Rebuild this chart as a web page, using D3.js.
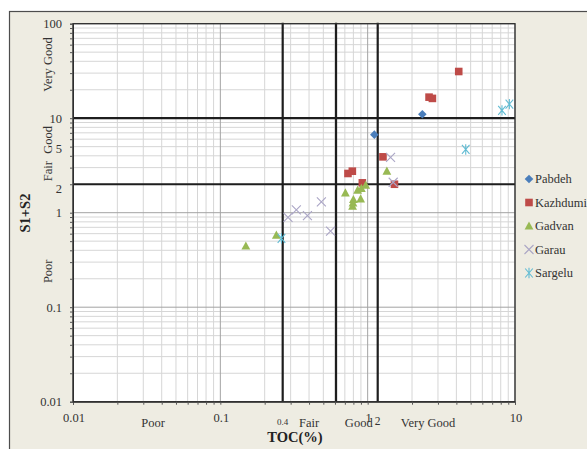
<!DOCTYPE html>
<html>
<head>
<meta charset="utf-8">
<script src="https://cdn.jsdelivr.net/npm/d3@7"></script>
<style>
  html, body { margin: 0; padding: 0; background: #ffffff; }
  svg { display: block; }
  text { font-family: "Liberation Serif", "Times New Roman", serif; fill: #333333; }
</style>
</head>
<body>
<div id="chart"></div>
<script>
// Source-rock quality plot: S1+S2 (mg HC/g rock) against TOC (%)
const seriesNames = ["Pabdeh", "Kazhdumi", "Gadvan", "Garau", "Sargelu"];
const seriesColors = ["#4a7ebb", "#be4b48", "#98b954", "#aba6c6", "#62bcd3"];
const seriesSymbols = ["diamond", "square", "triangle", "x", "asterisk"];

const pabdehTOC = [1.11, 2.35];
const pabdehS1S2 = [6.7, 11.0];

const kazhdumiTOC = [0.735, 0.787, 0.92, 1.27, 1.52, 2.61, 2.75, 4.15];
const kazhdumiS1S2 = [2.6, 2.75, 2.07, 3.9, 2.0, 16.7, 16.2, 31.2];

const gadvanTOC = [0.149, 0.24, 0.706, 0.79, 0.795, 0.80, 0.855, 0.896, 0.906, 0.97, 1.35];
const gadvanS1S2 = [0.444, 0.58, 1.62, 1.17, 1.27, 1.38, 1.73, 1.40, 1.81, 1.96, 2.75];

const garauTOC = [0.288, 0.328, 0.39, 0.485, 0.56, 1.43, 1.49];
const garauS1S2 = [0.89, 1.07, 0.93, 1.30, 0.64, 3.85, 2.1];

const sargeluTOC = [0.26, 4.63, 8.16, 9.16];
const sargeluS1S2 = [0.535, 4.67, 12.1, 14.1];

const seriesTOC = [pabdehTOC, kazhdumiTOC, gadvanTOC, garauTOC, sargeluTOC];
const seriesS1S2 = [pabdehS1S2, kazhdumiS1S2, gadvanS1S2, garauS1S2, sargeluS1S2];

// Axis ticks and labels
const xDomain = [0.01, 10];
const yDomain = [0.01, 100];
const xTickLabels = ["0.01", "0.1", "1", "10"];
const xTickValues = [0.01, 0.1, 1, 10];
const yTickLabels = ["100", "10", "5", "2", "1", "0.1", "0.01"];
const yTickValues = [100, 10, 5, 2, 1, 0.1, 0.01];

// Quality class boundaries and class names
const tocBoundaries = [0.265, 0.61, 1.17];
const tocBoundaryLabels = ["0.4", "", "2"];
const s1s2Boundaries = [2, 10];
const tocClassNames = ["Poor", "Fair", "Good", "Very Good"];
const tocClassCentres = [0.035, 0.4, 0.87, 2.57];
const s1s2ClassNames = ["Very Good", "Good", "Fair", "Poor"];
const s1s2ClassCentres = [37, 5.9, 2.75, 0.24];

const W = 587, H = 449;
const plot = { left: 73, right: 515, top: 23.7, bottom: 401.7 };

const svg = d3.select("#chart").append("svg")
  .attr("width", W).attr("height", H);

svg.append("rect").attr("width", W).attr("height", H).attr("fill", "#ffffff");
// chart-area frame
svg.append("rect")
  .attr("x", 9.5).attr("y", 11.5).attr("width", W).attr("height", H)
  .attr("fill", "#eeece2").attr("stroke", "#4d4d4d").attr("stroke-width", 1.2);

const x = d3.scaleLog().domain(xDomain).range([plot.left, plot.right]);
const y = d3.scaleLog().domain(yDomain).range([plot.bottom, plot.top]);

svg.append("rect")
  .attr("x", plot.left).attr("y", plot.top)
  .attr("width", plot.right - plot.left).attr("height", plot.bottom - plot.top)
  .attr("fill", "#ffffff");

// log grid values: minors (2..9 per decade) and decades
function logValues(domain) {
  const minor = [], major = [];
  for (let d = domain[0]; d < domain[1] * 1.0001; d *= 10) {
    major.push(d);
    if (d < domain[1] * 0.9999) for (let k = 2; k <= 9; k++) minor.push(+(d * k).toPrecision(3));
  }
  return { minor, major };
}
const xg = logValues(xDomain), yg = logValues(yDomain);

const grid = svg.append("g");
grid.selectAll(".xminor").data(xg.minor).join("line")
  .attr("x1", d => x(d)).attr("x2", d => x(d))
  .attr("y1", plot.top).attr("y2", plot.bottom)
  .attr("stroke", "#d6d6d6").attr("stroke-width", 1);
grid.selectAll(".yminor").data(yg.minor).join("line")
  .attr("y1", d => y(d)).attr("y2", d => y(d))
  .attr("x1", plot.left).attr("x2", plot.right)
  .attr("stroke", "#d6d6d6").attr("stroke-width", 1);
grid.selectAll(".xmajor").data(xg.major).join("line")
  .attr("x1", d => x(d)).attr("x2", d => x(d))
  .attr("y1", plot.top).attr("y2", plot.bottom)
  .attr("stroke", "#a3a3a3").attr("stroke-width", 1);
grid.selectAll(".ymajor").data(yg.major).join("line")
  .attr("y1", d => y(d)).attr("y2", d => y(d))
  .attr("x1", plot.left).attr("x2", plot.right)
  .attr("stroke", "#a3a3a3").attr("stroke-width", 1);

// class boundary lines
svg.append("g").selectAll("line").data(tocBoundaries).join("line")
  .attr("x1", d => x(d)).attr("x2", d => x(d))
  .attr("y1", plot.top - 1).attr("y2", plot.bottom)
  .attr("stroke", "#1e1e1e").attr("stroke-width", 2.2);
svg.append("g").selectAll("line").data(s1s2Boundaries).join("line")
  .attr("y1", d => y(d)).attr("y2", d => y(d))
  .attr("x1", plot.left).attr("x2", plot.right)
  .attr("stroke", "#1e1e1e").attr("stroke-width", 2.2);

// plot border
svg.append("rect")
  .attr("x", plot.left).attr("y", plot.top)
  .attr("width", plot.right - plot.left).attr("height", plot.bottom - plot.top)
  .attr("fill", "none").attr("stroke", "#2e2e2e").attr("stroke-width", 1.3);

// tick marks
const xAxis = d3.axisBottom(x).tickValues(xg.minor.concat(xg.major)).tickSize(3).tickFormat("");
svg.append("g").attr("transform", `translate(0,${plot.bottom})`).call(xAxis)
  .call(g => g.select(".domain").attr("stroke", "#2e2e2e"))
  .call(g => g.selectAll(".tick line").attr("stroke", "#555"));
const yAxis = d3.axisLeft(y).tickValues(yg.minor.concat(yg.major)).tickSize(3).tickFormat("");
svg.append("g").attr("transform", `translate(${plot.left},0)`).call(yAxis)
  .call(g => g.select(".domain").attr("stroke", "#2e2e2e"))
  .call(g => g.selectAll(".tick line").attr("stroke", "#555"));

// y tick labels
const yLabelShift = { "5": 2, "2": 4 };
svg.append("g").selectAll("text").data(yTickValues).join("text")
  .attr("x", 62).attr("y", (d, i) => y(d) + (yLabelShift[yTickLabels[i]] || 0))
  .attr("dy", "0.35em").attr("text-anchor", "end")
  .attr("font-size", 12.5)
  .text((d, i) => yTickLabels[i]);

// x tick labels
svg.append("g").selectAll("text").data(xTickValues).join("text")
  .attr("x", d => x(d) + 1).attr("y", 421.5)
  .attr("text-anchor", "middle").attr("font-size", 12.5)
  .text((d, i) => xTickLabels[i]);
svg.append("g").selectAll("text").data(tocBoundaries).join("text")
  .attr("x", d => x(d)).attr("y", 425)
  .attr("text-anchor", "middle")
  .attr("font-size", (d, i) => i === 0 ? 9 : 11.5)
  .text((d, i) => tocBoundaryLabels[i]);

// class names along the axes
svg.append("g").selectAll("text").data(tocClassCentres).join("text")
  .attr("x", d => x(d)).attr("y", 427)
  .attr("text-anchor", "middle").attr("font-size", 12.5)
  .text((d, i) => tocClassNames[i]);
svg.append("g").selectAll("text").data(s1s2ClassCentres).join("text")
  .attr("transform", d => `translate(51.5,${y(d)}) rotate(-90)`)
  .attr("text-anchor", "middle").attr("font-size", 12.5)
  .text((d, i) => s1s2ClassNames[i]);

// axis titles
svg.append("text")
  .attr("x", 295).attr("y", 442)
  .attr("text-anchor", "middle").attr("font-size", 14.5).attr("font-weight", "bold")
  .attr("fill", "#222").style("fill", "#222")
  .text("TOC(%)");
svg.append("text")
  .attr("transform", "translate(30,213) rotate(-90)")
  .attr("text-anchor", "middle").attr("font-size", 14.5).attr("font-weight", "bold")
  .style("fill", "#222")
  .text("S1+S2");

// marker shapes
function markerPath(type) {
  switch (type) {
    case "diamond": return "M0,-4.3L4.3,0L0,4.3L-4.3,0Z";
    case "square": return "M-3.8,-3.8H3.8V3.8H-3.8Z";
    case "triangle": return "M0,-4.6L4.4,3.6H-4.4Z";
    case "x": return "M-4.5,-4.5L4.5,4.5M-4.5,4.5L4.5,-4.5";
    case "asterisk": return "M-3.8,-4.5L3.8,4.5M-3.8,4.5L3.8,-4.5M0,-5.2V5.2";
  }
}
function styleMarker(sel, i) {
  const stroked = seriesSymbols[i] === "x" || seriesSymbols[i] === "asterisk";
  sel.attr("d", markerPath(seriesSymbols[i]))
    .attr("fill", stroked ? "none" : seriesColors[i])
    .attr("stroke", stroked ? seriesColors[i] : "none")
    .attr("stroke-width", stroked ? 1.1 : 0);
}

const points = svg.append("g");
seriesNames.forEach((name, i) => {
  const pts = seriesTOC[i].map((t, j) => ({ toc: t, s: seriesS1S2[i][j] }));
  points.append("g").selectAll("path").data(pts).join("path")
    .attr("transform", d => `translate(${x(d.toc)},${y(d.s)})`)
    .call(styleMarker, i);
});

// legend
const legend = svg.append("g");
seriesNames.forEach((name, i) => {
  const ly = 179 + i * 23.5;
  legend.append("path").attr("transform", `translate(529,${ly})`).call(styleMarker, i);
  legend.append("text").attr("x", 535).attr("y", ly).attr("dy", "0.35em")
    .attr("font-size", 12.5).text(name);
});
</script>
</body>
</html>
